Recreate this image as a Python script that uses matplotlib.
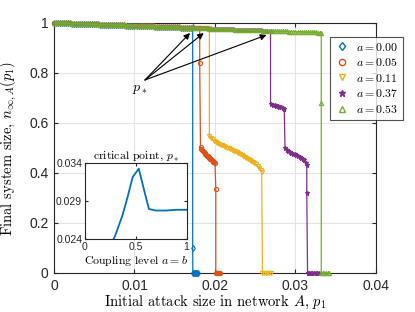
import matplotlib
matplotlib.use('Agg')
import matplotlib.pyplot as plt
import numpy as np
from matplotlib.lines import Line2D

plt.rcParams['font.family'] = ['Liberation Sans', 'DejaVu Sans']
plt.rcParams['mathtext.fontset'] = 'cm'
SERIF = 'cmr10'

# ---------------- data ----------------
# common "no cascade" branch near 1 (sampled every 0.00025 in p1)
top_y = [1.000, 1.000, 0.999, 0.999, 0.999, 0.999, 0.998, 0.998, 0.998, 0.997,
         0.997, 0.997, 0.996, 0.996, 0.996, 0.996, 0.995, 0.995, 0.995, 0.994,
         0.994, 0.994, 0.994, 0.993, 0.993, 0.993, 0.992, 0.992, 0.992, 0.991,
         0.991, 0.991, 0.991, 0.990, 0.990, 0.990, 0.989, 0.989, 0.989, 0.988,
         0.988, 0.988, 0.988, 0.987, 0.987, 0.987, 0.986, 0.986, 0.986, 0.986,
         0.985, 0.985, 0.985, 0.984, 0.984, 0.984, 0.983, 0.983, 0.983, 0.983,
         0.982, 0.982, 0.982, 0.981, 0.981, 0.981, 0.981, 0.980, 0.980, 0.980,
         0.979, 0.979, 0.979, 0.978, 0.978, 0.978, 0.978, 0.977, 0.977, 0.977,
         0.976, 0.976, 0.976, 0.976, 0.975, 0.975, 0.975, 0.974, 0.974, 0.974,
         0.973, 0.973, 0.973, 0.973, 0.972, 0.972, 0.972, 0.971, 0.971, 0.971,
         0.970, 0.970, 0.970, 0.970, 0.969, 0.969, 0.969, 0.968, 0.968, 0.968,
         0.968, 0.967, 0.967, 0.967, 0.966, 0.966, 0.966, 0.965, 0.965, 0.965,
         0.965, 0.964, 0.964, 0.964, 0.963, 0.963, 0.963, 0.963, 0.962, 0.962,
         0.962, 0.961, 0.961]
top_x = np.round(np.arange(len(top_y)) * 0.00025, 5)

labels = ['$a = 0.00$', '$a = 0.05$', '$a = 0.11$', '$a = 0.37$', '$a = 0.53$']
colors = ['#0072BD', '#D95319', '#EDB120', '#7E2F8E', '#77AC30']
markers = ['d', 'o', 'v', '*', '^']
drop_start = [0.0170, 0.0180, 0.0190, 0.0265, 0.0330]   # last point of upper branch

tail_a000_x = [0.01723, 0.01723, 0.01725, 0.0173, 0.0174, 0.0175, 0.0176, 0.0177, 0.0178, 0.0179]
tail_a000_y = [0.982, 0.10, 0.0, 0.0, 0.0, 0.0, 0.0, 0.0, 0.0, 0.0]

tail_a005_x = [0.0181, 0.0181, 0.0182, 0.0183, 0.0184, 0.0185, 0.0186, 0.0187, 0.0188,
               0.0189, 0.0190, 0.0191, 0.0192, 0.0193, 0.0194, 0.0195, 0.0196, 0.0197,
               0.0198, 0.0199, 0.0200, 0.0201, 0.0201, 0.0202, 0.0203, 0.0204, 0.0205,
               0.0206]
tail_a005_y = [0.980, 0.84, 0.505, 0.497, 0.491, 0.486, 0.482, 0.479, 0.476,
               0.472, 0.469, 0.466, 0.463, 0.460, 0.457, 0.454, 0.451, 0.448,
               0.445, 0.442, 0.439, 0.336, 0.0, 0.0, 0.0, 0.0, 0.0,
               0.0]

tail_a011_x = [0.0193, 0.0193, 0.0195, 0.0197, 0.0199, 0.0201, 0.0203, 0.0205, 0.0207,
               0.0209, 0.0211, 0.0213, 0.0215, 0.0217, 0.0219, 0.0221, 0.0223, 0.0225,
               0.0227, 0.0229, 0.0231, 0.0233, 0.0235, 0.0237, 0.0239, 0.0241, 0.0243,
               0.0245, 0.0247, 0.0249, 0.0251, 0.0253, 0.0255, 0.0257, 0.0258, 0.0259,
               0.0261, 0.0263, 0.0265, 0.0267, 0.0269]
tail_a011_y = [0.978, 0.548, 0.540, 0.534, 0.529, 0.524, 0.520, 0.516, 0.513,
               0.510, 0.507, 0.504, 0.501, 0.498, 0.495, 0.492, 0.489, 0.486,
               0.483, 0.480, 0.477, 0.473, 0.469, 0.465, 0.461, 0.457, 0.453,
               0.449, 0.444, 0.439, 0.434, 0.428, 0.421, 0.413, 0.405, 0.0,
               0.0, 0.0, 0.0, 0.0, 0.0]

tail_a037_x = [0.0269, 0.0269, 0.0272, 0.0274, 0.0276, 0.0278, 0.0280, 0.0282, 0.0284,
               0.0286, 0.0287, 0.0289, 0.0291, 0.0293, 0.0295, 0.0297, 0.0299, 0.0301,
               0.0303, 0.0305, 0.0307, 0.0309, 0.0311, 0.0313, 0.0314, 0.0314, 0.0315,
               0.0317, 0.0319, 0.0321, 0.0323, 0.0325, 0.0327, 0.0329]
tail_a037_y = [0.969, 0.676, 0.673, 0.670, 0.668, 0.666, 0.664, 0.662, 0.660,
               0.657, 0.499, 0.492, 0.487, 0.483, 0.480, 0.477, 0.474, 0.471,
               0.468, 0.465, 0.461, 0.456, 0.450, 0.441, 0.432, 0.32, 0.0,
               0.0, 0.0, 0.0, 0.0, 0.0, 0.0, 0.0]

tail_a053_x = [0.0332, 0.0332, 0.0332, 0.0334, 0.0336, 0.0338, 0.0340, 0.0342]
tail_a053_y = [0.960, 0.681, 0.0, 0.0, 0.0, 0.0, 0.0, 0.0]

tails_x = [tail_a000_x, tail_a005_x, tail_a011_x, tail_a037_x, tail_a053_x]
tails_y = [tail_a000_y, tail_a005_y, tail_a011_y, tail_a037_y, tail_a053_y]

# inset: critical point p* versus coupling level a = b
inset_a = [0.00, 0.05, 0.11, 0.20, 0.30, 0.37, 0.42, 0.47, 0.53, 0.58, 0.63, 0.70, 0.80, 0.90, 1.00]
inset_p = [0.0172, 0.0181, 0.0193, 0.0215, 0.0246, 0.0272, 0.0296, 0.0322, 0.0333, 0.0306,
           0.0280, 0.0278, 0.0278, 0.0279, 0.0279]

# ---------------- figure ----------------
fig = plt.figure(figsize=(4.15, 3.12), dpi=100)
ax = fig.add_axes([0.1301, 0.125, 0.7759, 0.8013])

for i in range(5):
    n = int(np.sum(top_x <= drop_start[i] + 1e-9))
    xs = list(top_x[:n]) + tails_x[i]
    ys = list(top_y[:n]) + tails_y[i]
    filled = markers[i] == '*'
    ax.plot(xs, ys, color=colors[i], lw=0.9, marker=markers[i],
            ms=3.6 if filled else 3.0, mew=0.8,
            mfc=colors[i] if filled else 'none', mec=colors[i], clip_on=False, zorder=3 + i)

ax.set_xlim(0, 0.04)
ax.set_ylim(0, 1)
ax.set_xticks([0, 0.01, 0.02, 0.03, 0.04])
ax.set_xticklabels(['0', '0.01', '0.02', '0.03', '0.04'])
ax.set_yticks([0, 0.2, 0.4, 0.6, 0.8, 1])
ax.set_yticklabels(['0', '0.2', '0.4', '0.6', '0.8', '1'])
ax.tick_params(direction='in', top=True, right=True, labelsize=10, length=3,
               color='#262626', labelcolor='#262626', pad=4)
ax.grid(True, color='#e3e3e3', lw=0.8)
ax.set_axisbelow(True)
for s in ax.spines.values():
    s.set_color('#262626')
    s.set_linewidth(0.8)

ax.set_xlabel('Initial attack size in network $A$, $p_1$', fontfamily=SERIF,
              fontsize=10.5, labelpad=1)
ax.set_ylabel('Final system size, $n_{\\infty,A}(p_1)$', fontfamily=SERIF,
              fontsize=10.5, labelpad=7)

# arrows to the critical points
tail = (0.0113, 0.772)
heads = [(0.0169, 0.960), (0.0186, 0.960), (0.0264, 0.952)]
for h in heads:
    ax.annotate('', xy=h, xytext=tail,
                arrowprops=dict(arrowstyle='-|>', color='k', lw=0.8,
                                mutation_scale=9, shrinkA=0, shrinkB=0), zorder=20)
ax.text(0.0106, 0.735, '$p_*$', fontsize=10, ha='center', va='center', zorder=20)

# legend
handles = [Line2D([], [], ls='none', marker=markers[i], color=colors[i], ms=4.5,
                  mew=1.0, mfc=colors[i] if markers[i] == '*' else 'none')
           for i in range(5)]
leg = fig.legend(handles, labels, loc='upper left', bbox_to_anchor=(0.795, 0.882),
                 fontsize=8.5, frameon=True, fancybox=False, handlelength=1.2,
                 handletextpad=0.6, labelspacing=0.3, borderpad=0.4, borderaxespad=0)
leg.get_frame().set_edgecolor('#262626')
leg.get_frame().set_linewidth(0.8)

# inset
ins = fig.add_axes([0.2048, 0.2324, 0.2446, 0.2442])
ins.plot(inset_a, inset_p, color='#0072BD', lw=1.3)
ins.set_xlim(0, 1)
ins.set_ylim(0.024, 0.034)
ins.set_xticks([0, 0.5, 1])
ins.set_xticklabels(['0', '0.5', '1'])
ins.set_yticks([0.024, 0.029, 0.034])
ins.set_yticklabels(['0.024', '0.029', '0.034'])
ins.tick_params(direction='in', top=True, right=True, labelsize=7.5, length=2.5,
                color='#262626', labelcolor='#262626', pad=2)
for s in ins.spines.values():
    s.set_color('#262626')
    s.set_linewidth(0.8)
ins.set_title('critical point, $p_*$', fontfamily=SERIF, fontsize=8.5, pad=3)
ins.set_xlabel('Coupling level $a = b$', fontfamily=SERIF, fontsize=8.5, labelpad=1)

fig.savefig('out.png', dpi=100)
